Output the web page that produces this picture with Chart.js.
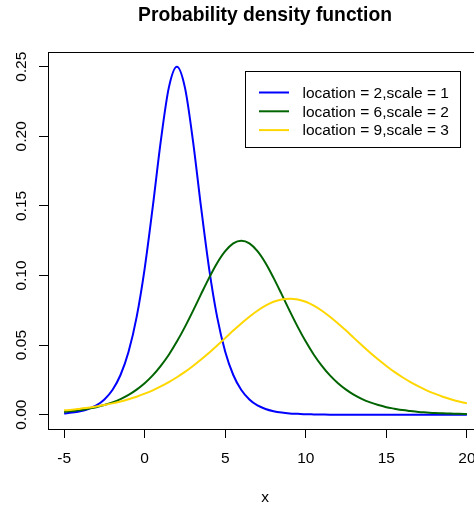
<!DOCTYPE html>
<html>
<head>
<meta charset="utf-8">
<script src="https://cdn.jsdelivr.net/npm/chart.js@4/dist/chart.umd.min.js"></script>
<style>
  html, body { margin: 0; padding: 0; background: #fff; overflow: hidden; }
  canvas { display: block; }
</style>
</head>
<body>
<canvas id="pdfChart" width="490" height="506"></canvas>
<script>
// x grid of the curves
const xs = [-5, -4.5, -4, -3.5, -3, -2.5, -2, -1.5, -1, -0.5, 0, 0.5, 1, 1.5, 2, 2.5, 3, 3.5, 4, 4.5,
  5, 5.5, 6, 6.5, 7, 7.5, 8, 8.5, 9, 9.5, 10, 10.5, 11, 11.5, 12, 12.5, 13, 13.5, 14, 14.5,
  15, 15.5, 16, 16.5, 17, 17.5, 18, 18.5, 19, 19.5, 20];

const blueVals = [0.0009, 0.0015, 0.0025, 0.0041, 0.0066, 0.0109, 0.0177, 0.0285, 0.0452, 0.0701,
  0.1050, 0.1491, 0.1966, 0.2350, 0.2500, 0.2350, 0.1966, 0.1491, 0.1050, 0.0701,
  0.0452, 0.0285, 0.0177, 0.0109, 0.0066, 0.0041, 0.0025, 0.0015, 0.0009, 0.0006,
  0.0003, 0.0002, 0.0001, 0, 0, 0, 0, 0, 0, 0,
  0, 0, 0, 0, 0, 0, 0, 0, 0, 0, 0];

const greenVals = [0.0020, 0.0026, 0.0033, 0.0043, 0.0054, 0.0069, 0.0088, 0.0112, 0.0142, 0.0180,
  0.0226, 0.0282, 0.0351, 0.0431, 0.0525, 0.0631, 0.0746, 0.0866, 0.0983, 0.1090,
  0.1175, 0.1231, 0.1250, 0.1231, 0.1175, 0.1090, 0.0983, 0.0866, 0.0746, 0.0631,
  0.0525, 0.0431, 0.0351, 0.0282, 0.0226, 0.0180, 0.0142, 0.0112, 0.0088, 0.0069,
  0.0054, 0.0043, 0.0033, 0.0026, 0.0020, 0.0016, 0.0012, 0.0010, 0.0008, 0.0006, 0.0005];

const goldVals = [0.0031, 0.0036, 0.0043, 0.0050, 0.0059, 0.0069, 0.0081, 0.0095, 0.0111, 0.0129,
  0.0151, 0.0175, 0.0203, 0.0234, 0.0269, 0.0307, 0.0350, 0.0396, 0.0445, 0.0497,
  0.0550, 0.0604, 0.0655, 0.0704, 0.0747, 0.0783, 0.0811, 0.0828, 0.0833, 0.0828,
  0.0811, 0.0783, 0.0747, 0.0704, 0.0655, 0.0604, 0.0550, 0.0497, 0.0445, 0.0396,
  0.0350, 0.0307, 0.0269, 0.0234, 0.0203, 0.0175, 0.0151, 0.0129, 0.0111, 0.0095, 0.0081];

const seriesLabels = ["location = 2,scale = 1", "location = 6,scale = 2", "location = 9,scale = 3"];
const seriesColors = ["#0000FF", "#006400", "#FFD700"];

const xTicks = [-5, 0, 5, 10, 15, 20];
const yTicks = [0, 0.05, 0.10, 0.15, 0.20, 0.25];
const yTickLabels = ["0.00", "0.05", "0.10", "0.15", "0.20", "0.25"];

const fontFam = "'Liberation Sans', Arial, sans-serif";

function toPoints(vals) {
  return xs.map((x, i) => ({ x: x, y: vals[i] }));
}

// R style extras: box, title, rotated y labels, x label, legend
const rStyle = {
  id: "rStyle",
  afterDraw(chart) {
    const ctx = chart.ctx;
    const a = chart.chartArea;
    const yScale = chart.scales.y;
    ctx.save();

    ctx.strokeStyle = "#000";
    ctx.lineWidth = 1;
    ctx.strokeRect(Math.round(a.left) + 0.5, Math.round(a.top) + 0.5,
      Math.round(a.right - a.left), Math.round(a.bottom - a.top));

    ctx.fillStyle = "#000";
    ctx.textAlign = "center";
    ctx.textBaseline = "alphabetic";
    ctx.font = "bold 19.3px " + fontFam;
    ctx.fillText("Probability density function", 265, 21);

    ctx.font = "15.5px " + fontFam;
    ctx.fillText("x", 265, 502);

    yTicks.forEach((v, i) => {
      const py = yScale.getPixelForValue(v);
      ctx.save();
      ctx.translate(26, py);
      ctx.rotate(-Math.PI / 2);
      ctx.fillText(yTickLabels[i], 0, 0);
      ctx.restore();
    });

    // legend
    ctx.fillStyle = "#fff";
    ctx.fillRect(246, 72, 215, 76);
    ctx.strokeRect(245.5, 71.5, 215, 76);
    ctx.textAlign = "left";
    ctx.textBaseline = "middle";
    seriesLabels.forEach((lab, i) => {
      const ry = 92.5 + i * 18.8;
      ctx.strokeStyle = seriesColors[i];
      ctx.lineWidth = 2;
      ctx.beginPath();
      ctx.moveTo(259, ry);
      ctx.lineTo(289, ry);
      ctx.stroke();
      ctx.fillStyle = "#000";
      ctx.fillText(lab, 302.5, ry + 1);
    });
    ctx.restore();
  }
};

const tickGrid = { display: true, drawOnChartArea: false, drawTicks: true, tickLength: 9, color: "#000", lineWidth: 1 };

new Chart(document.getElementById("pdfChart"), {
  type: "line",
  data: {
    datasets: [0, 1, 2].map(i => ({
      label: seriesLabels[i],
      data: toPoints([blueVals, greenVals, goldVals][i]),
      borderColor: seriesColors[i],
      backgroundColor: seriesColors[i],
      borderWidth: 2,
      pointRadius: 0,
      fill: false,
      cubicInterpolationMode: "monotone",
      order: 2 - i
    }))
  },
  options: {
    responsive: false,
    animation: false,
    devicePixelRatio: 1,
    layout: { padding: { top: 52, right: 7, left: 0, bottom: 0 } },
    plugins: { legend: { display: false }, title: { display: false }, tooltip: { enabled: false } },
    scales: {
      x: {
        type: "linear",
        min: -6,
        max: 21,
        afterBuildTicks: s => { s.ticks = xTicks.map(v => ({ value: v })); },
        afterFit: s => { s.height = 77; },
        grid: tickGrid,
        border: { display: false },
        ticks: { color: "#000", font: { size: 15.5, family: fontFam }, padding: 11, maxRotation: 0, autoSkip: false }
      },
      y: {
        type: "linear",
        min: -0.0103,
        max: 0.2606,
        afterBuildTicks: s => { s.ticks = yTicks.map(v => ({ value: v })); },
        afterFit: s => { s.width = 48; },
        grid: tickGrid,
        border: { display: false },
        ticks: { display: false }
      }
    }
  },
  plugins: [rStyle]
});
</script>
</body>
</html>
